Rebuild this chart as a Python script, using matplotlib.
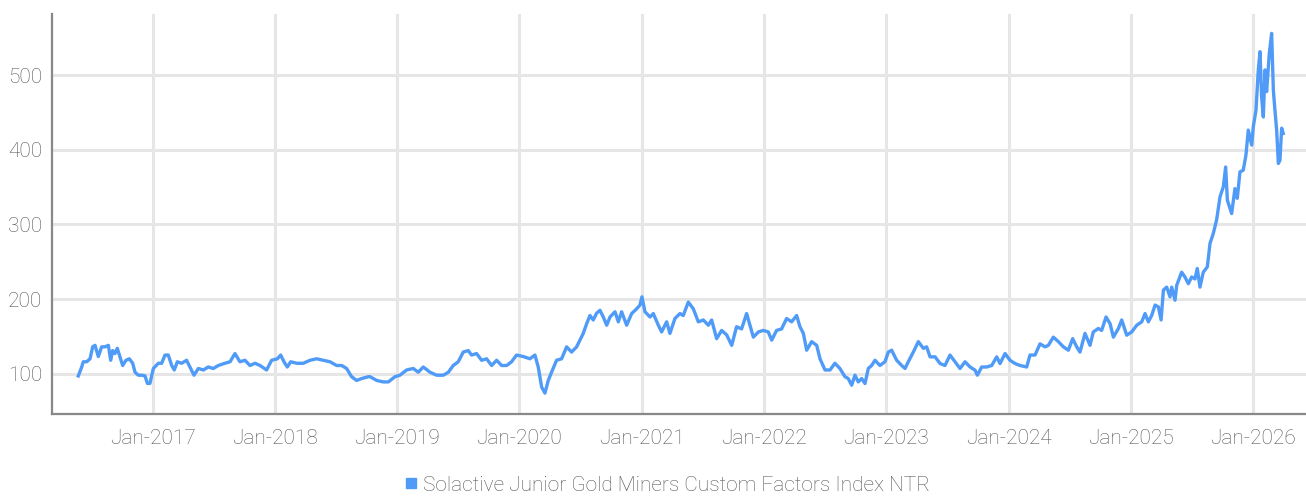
import matplotlib
matplotlib.use("Agg")
import matplotlib.pyplot as plt
from matplotlib.lines import Line2D

# decimal year and index level
years = [
    2016.393, 2016.421, 2016.434, 2016.462, 2016.489, 2016.511, 2016.530, 2016.557, 2016.584, 2016.611,
    2016.639, 2016.658, 2016.674, 2016.693, 2016.712, 2016.729, 2016.756, 2016.783, 2016.810, 2016.838,
    2016.857, 2016.884, 2016.911, 2016.939, 2016.958, 2016.979, 2017.007, 2017.048, 2017.075, 2017.102,
    2017.129, 2017.157, 2017.178, 2017.203, 2017.238, 2017.279, 2017.312, 2017.339, 2017.375, 2017.416,
    2017.456, 2017.497, 2017.538, 2017.593, 2017.634, 2017.674, 2017.715, 2017.756, 2017.797, 2017.838,
    2017.879, 2017.933, 2017.974, 2018.021, 2018.048, 2018.075, 2018.102, 2018.130, 2018.179, 2018.233,
    2018.288, 2018.342, 2018.397, 2018.451, 2018.506, 2018.547, 2018.587, 2018.628, 2018.669, 2018.710,
    2018.765, 2018.778, 2018.833, 2018.887, 2018.928, 2018.983, 2019.023, 2019.078, 2019.132, 2019.173,
    2019.214, 2019.269, 2019.323, 2019.378, 2019.419, 2019.459, 2019.500, 2019.541, 2019.582, 2019.609,
    2019.650, 2019.691, 2019.732, 2019.773, 2019.814, 2019.855, 2019.896, 2019.936, 2019.977, 2020.032,
    2020.086, 2020.127, 2020.154, 2020.182, 2020.209, 2020.236, 2020.263, 2020.304, 2020.345, 2020.386,
    2020.427, 2020.468, 2020.495, 2020.522, 2020.550, 2020.577, 2020.604, 2020.631, 2020.659, 2020.686,
    2020.714, 2020.741, 2020.782, 2020.809, 2020.836, 2020.877, 2020.918, 2020.959, 2020.986, 2021.002,
    2021.027, 2021.068, 2021.095, 2021.136, 2021.163, 2021.204, 2021.231, 2021.272, 2021.313, 2021.340,
    2021.381, 2021.422, 2021.463, 2021.504, 2021.545, 2021.572, 2021.613, 2021.654, 2021.695, 2021.736,
    2021.776, 2021.817, 2021.858, 2021.913, 2021.954, 2021.995, 2022.035, 2022.063, 2022.103, 2022.144,
    2022.185, 2022.226, 2022.267, 2022.294, 2022.322, 2022.349, 2022.390, 2022.431, 2022.458, 2022.499,
    2022.540, 2022.580, 2022.621, 2022.662, 2022.689, 2022.717, 2022.744, 2022.771, 2022.799, 2022.826,
    2022.853, 2022.880, 2022.908, 2022.948, 2022.989, 2023.017, 2023.044, 2023.085, 2023.126, 2023.153,
    2023.180, 2023.221, 2023.262, 2023.303, 2023.330, 2023.358, 2023.399, 2023.440, 2023.480, 2023.521,
    2023.562, 2023.603, 2023.644, 2023.685, 2023.726, 2023.745, 2023.780, 2023.821, 2023.862, 2023.903,
    2023.930, 2023.971, 2024.012, 2024.053, 2024.094, 2024.148, 2024.175, 2024.216, 2024.257, 2024.298,
    2024.325, 2024.366, 2024.407, 2024.448, 2024.489, 2024.524, 2024.557, 2024.584, 2024.625, 2024.666,
    2024.693, 2024.734, 2024.761, 2024.797, 2024.830, 2024.857, 2024.898, 2024.925, 2024.966, 2025.007,
    2025.048, 2025.089, 2025.116, 2025.143, 2025.170, 2025.198, 2025.225, 2025.247, 2025.266, 2025.293,
    2025.320, 2025.334, 2025.361, 2025.375, 2025.415, 2025.442, 2025.470, 2025.497, 2025.524, 2025.543,
    2025.565, 2025.592, 2025.625, 2025.647, 2025.674, 2025.701, 2025.729, 2025.756, 2025.775, 2025.789,
    2025.824, 2025.851, 2025.870, 2025.892, 2025.919, 2025.941, 2025.960, 2025.988, 2026.001, 2026.023,
    2026.042, 2026.056, 2026.069, 2026.083, 2026.097, 2026.110, 2026.132, 2026.151, 2026.165, 2026.178,
    2026.192, 2026.206, 2026.219, 2026.233, 2026.246,
]
index_vals = [
    97, 109, 116, 116, 120, 136, 138, 123, 136, 136,
    138, 118, 131, 127, 134, 125, 111, 118, 120, 114,
    102, 98, 98, 97, 87, 87, 107, 114, 114, 125,
    125, 111, 105, 116, 114, 118, 107, 98, 107, 105,
    109, 107, 111, 114, 116, 127, 116, 118, 111, 114,
    111, 105, 118, 120, 125, 116, 109, 116, 114, 114,
    118, 120, 118, 116, 111, 111, 107, 96, 91, 93.5,
    96, 96, 91, 89, 89, 96, 98, 105, 107, 102,
    109, 102, 98, 98, 102, 111, 116, 129, 131, 125,
    127, 118, 120, 111, 118, 111, 111, 116, 125, 123,
    120, 125, 109, 82, 74, 91, 102, 118, 120, 136,
    129, 136, 145, 154, 167, 178, 172, 181, 185, 176,
    165, 176, 183, 169.5, 183, 165, 180.6, 187, 192, 203,
    183, 176, 180.6, 165, 156, 169.5, 154, 174, 180.6, 178,
    196, 187, 169.5, 172, 165, 172, 147, 158, 152, 138,
    163, 160, 180.6, 149, 156, 158, 156, 145, 158, 160,
    174, 169.5, 178, 163, 154, 131.5, 143, 138, 120, 105,
    105, 114, 107, 96, 93.5, 84.6, 98, 89, 93.5, 86.8,
    107, 111, 118, 111, 116, 129, 131.5, 118, 111, 107,
    116, 129, 143, 134, 136, 122.6, 122.6, 113.6, 111, 125,
    116, 107, 116, 109, 104.7, 98, 109, 109, 111, 122.6,
    113.6, 127, 118, 113.6, 111, 109, 125, 125, 140, 136,
    138, 149, 143, 136, 131.5, 147, 136, 129, 154, 138,
    156, 160.6, 158, 176, 167, 149, 160.6, 172, 151.6, 156,
    165, 169.5, 180.6, 169.5, 178, 192, 189.5, 172, 212, 216,
    203, 216, 198.5, 218.6, 236, 229.6, 220.6, 229.6, 227, 241,
    216, 236, 243, 274.5, 288, 306, 337, 350.4, 377, 332.5,
    314.6, 348, 335, 370.4, 372.7, 393, 426.4, 406.3, 431, 453,
    507, 531.5, 471, 444, 507, 478, 529, 556, 480, 453,
    426.4, 381.7, 386, 429, 422,
]

tick_years = [2017, 2018, 2019, 2020, 2021, 2022, 2023, 2024, 2025, 2026]
tick_labels = ["Jan-" + str(y) for y in tick_years]
y_ticks = [100, 200, 300, 400, 500]
series_name = "Solactive Junior Gold Miners Custom Factors Index NTR"

plt.rcParams["font.family"] = ["Roboto", "DejaVu Sans"]
line_color = "#4f9bf7"
text_color = "#555555"

fig = plt.figure(figsize=(13.06, 4.96), dpi=100)
ax = fig.add_axes([0.0398, 0.1653, 0.9602, 0.8065])

ax.plot(years, index_vals, color=line_color, linewidth=2.4, solid_joinstyle="round")

ax.set_xlim(2016.178, 2026.432)
ax.set_ylim(46, 582)
ax.set_xticks(tick_years)
ax.set_xticklabels(tick_labels)
ax.set_yticks(y_ticks)

ax.grid(True, color="#e6e6e6", linewidth=2.2)
ax.set_axisbelow(True)
ax.tick_params(length=0, labelsize=15, labelcolor=text_color)
ax.tick_params(axis="x", pad=11)
ax.tick_params(axis="y", pad=7)
for lbl in ax.get_xticklabels() + ax.get_yticklabels():
    lbl.set_fontweight("light")

for side in ["top", "right"]:
    ax.spines[side].set_visible(False)
for side in ["left", "bottom"]:
    ax.spines[side].set_color("#888888")
    ax.spines[side].set_linewidth(1.6)

handle = Line2D([], [], linestyle="none", marker="s", markersize=7.5,
                markerfacecolor=line_color, markeredgecolor=line_color)
leg = fig.legend([handle], [series_name], loc="center", bbox_to_anchor=(0.511, 0.022),
                 frameon=False, handlelength=0.6, handletextpad=0.25,
                 prop={"size": 15, "weight": "light"})
for txt in leg.get_texts():
    txt.set_color(text_color)

fig.savefig("out.png", dpi=100)
